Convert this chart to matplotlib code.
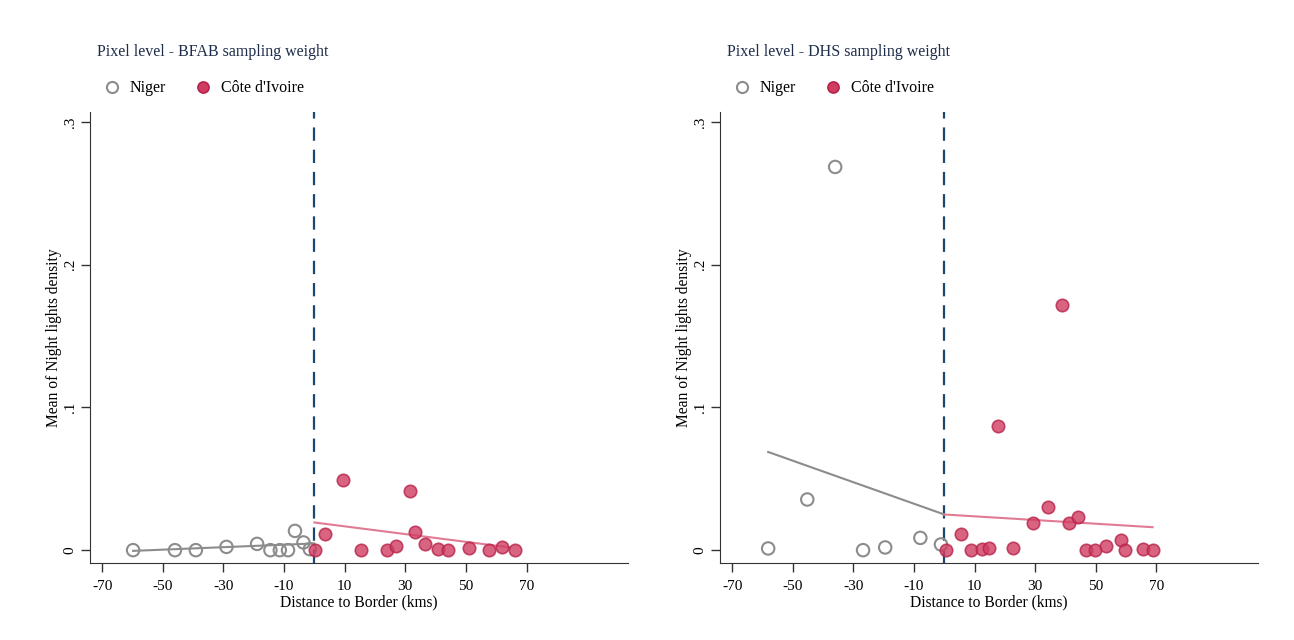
import numpy as np
import matplotlib
matplotlib.use("Agg")
import matplotlib.pyplot as plt
from matplotlib.lines import Line2D

plt.rcParams['font.family'] = ['Liberation Serif', 'DejaVu Serif']

# --- BFAB sampling weight panel ---
bfab_ner_x = [-59.8, -46.0, -39.1, -29.0, -18.9, -14.5, -11.4, -8.7, -6.4, -3.6, -1.5]
bfab_ner_y = [0.0, 0.0, 0.0, 0.0023, 0.0044, 0.0, 0.0, 0.0, 0.0135, 0.0054, 0.0007]
bfab_civ_x = [0.3, 3.5, 9.5, 15.3, 23.8, 26.8, 31.7, 33.2, 36.4, 40.7, 44.0, 51.1, 57.7, 62.0, 66.1]
bfab_civ_y = [0.0, 0.011, 0.0495, 0.0, 0.0, 0.0026, 0.0416, 0.0124, 0.0042, 0.0007, 0.0, 0.0012, 0.0, 0.0019, 0.0]
bfab_ner_fit_x = [-59.8, 0.0]
bfab_ner_fit_y = [-0.0005, 0.0047]
bfab_civ_fit_x = [0.0, 64.5]
bfab_civ_fit_y = [0.0194, 0.0019]

# --- DHS sampling weight panel ---
dhs_ner_x = [-58.1, -45.2, -36.0, -26.8, -19.5, -7.9, -1.1]
dhs_ner_y = [0.0012, 0.0355, 0.2685, 0.0, 0.0019, 0.0086, 0.004]
dhs_civ_x = [0.5, 5.4, 8.9, 12.3, 14.6, 17.7, 22.7, 29.3, 34.1, 38.8, 41.1, 44.1, 46.8, 49.7, 53.3, 58.3, 59.6, 65.5, 68.7]
dhs_civ_y = [0.0, 0.0112, 0.0, 0.0007, 0.0016, 0.0868, 0.0016, 0.0189, 0.0299, 0.1716, 0.0189, 0.0231, 0.0, 0.0, 0.0026, 0.007, 0.0, 0.0007, 0.0]
dhs_ner_fit_x = [-58.1, 0.0]
dhs_ner_fit_y = [0.0688, 0.025]
dhs_civ_fit_x = [0.0, 68.7]
dhs_civ_fit_y = [0.025, 0.0161]

titles = ["Pixel level - BFAB sampling weight", "Pixel level - DHS sampling weight"]
xticks = [-70, -50, -30, -10, 10, 30, 50, 70]
yticks = [0, 0.1, 0.2, 0.3]
ytick_labels = ["0", ".1", ".2", ".3"]

gray = '#8c8c8c'
red_face = '#d03d62'
red_edge = '#b8234a'
red_line = '#e07b93'
navy = '#1a476f'

fig = plt.figure(figsize=(12.94, 6.4), dpi=100)
ax1 = fig.add_axes([0.0696, 0.1203, 0.4158, 0.7047])
ax2 = fig.add_axes([0.5564, 0.1203, 0.4158, 0.7047])

panels = [
    (ax1, bfab_ner_x, bfab_ner_y, bfab_civ_x, bfab_civ_y,
     bfab_ner_fit_x, bfab_ner_fit_y, bfab_civ_fit_x, bfab_civ_fit_y, titles[0]),
    (ax2, dhs_ner_x, dhs_ner_y, dhs_civ_x, dhs_civ_y,
     dhs_ner_fit_x, dhs_ner_fit_y, dhs_civ_fit_x, dhs_civ_fit_y, titles[1]),
]

for ax, nx, ny, cx, cy, nfx, nfy, cfx, cfy, title in panels:
    ax.axvline(0, color=navy, linestyle=(0, (6, 4)), linewidth=1.6, zorder=1)
    ax.plot(nfx, nfy, color=gray, linewidth=1.5, zorder=2)
    ax.plot(cfx, cfy, color=red_line, linewidth=1.5, zorder=2)
    ax.scatter(nx, ny, s=80, facecolors='none', edgecolors=gray, linewidths=1.5, zorder=3)
    ax.scatter(cx, cy, s=80, facecolors=red_face, edgecolors=red_edge, linewidths=1.2,
               alpha=0.8, zorder=3)

    ax.set_xlim(-74, 103.5)
    ax.set_ylim(-0.009, 0.307)
    ax.set_xticks(xticks)
    ax.set_xticklabels([str(t) for t in xticks], fontsize=11)
    ax.set_yticks(yticks)
    ax.set_yticklabels(ytick_labels, fontsize=11, rotation=90, va='center')
    ax.tick_params(direction='out', length=6.5, width=1, color='#333333')
    ax.tick_params(axis='x', pad=6)
    ax.tick_params(axis='y', pad=3)
    ax.spines['top'].set_visible(False)
    ax.spines['right'].set_visible(False)
    ax.spines['left'].set_color('#333333')
    ax.spines['bottom'].set_color('#333333')
    ax.set_xlabel("Distance to Border (kms)", fontsize=11.2, labelpad=1)
    ax.set_ylabel("Mean of Night lights density", fontsize=11.2, labelpad=1)

    ax.text(0.013, 1.133, title, transform=ax.transAxes, fontsize=11.5,
            color='#1e2d4a', ha='left', va='center')

    handles = [
        Line2D([], [], marker='o', linestyle='none', markersize=8,
               markerfacecolor='none', markeredgecolor=gray, markeredgewidth=1.5),
        Line2D([], [], marker='o', linestyle='none', markersize=8,
               markerfacecolor=red_face, markeredgecolor=red_edge, markeredgewidth=1.2),
    ]
    ax.legend(handles, ["Niger", "Côte d'Ivoire"], loc='center left',
              bbox_to_anchor=(0.0, 1.053), ncol=2, frameon=False, fontsize=11.5,
              handletextpad=0.1, columnspacing=1.3, borderaxespad=0)

fig.savefig("out.png", dpi=100)
